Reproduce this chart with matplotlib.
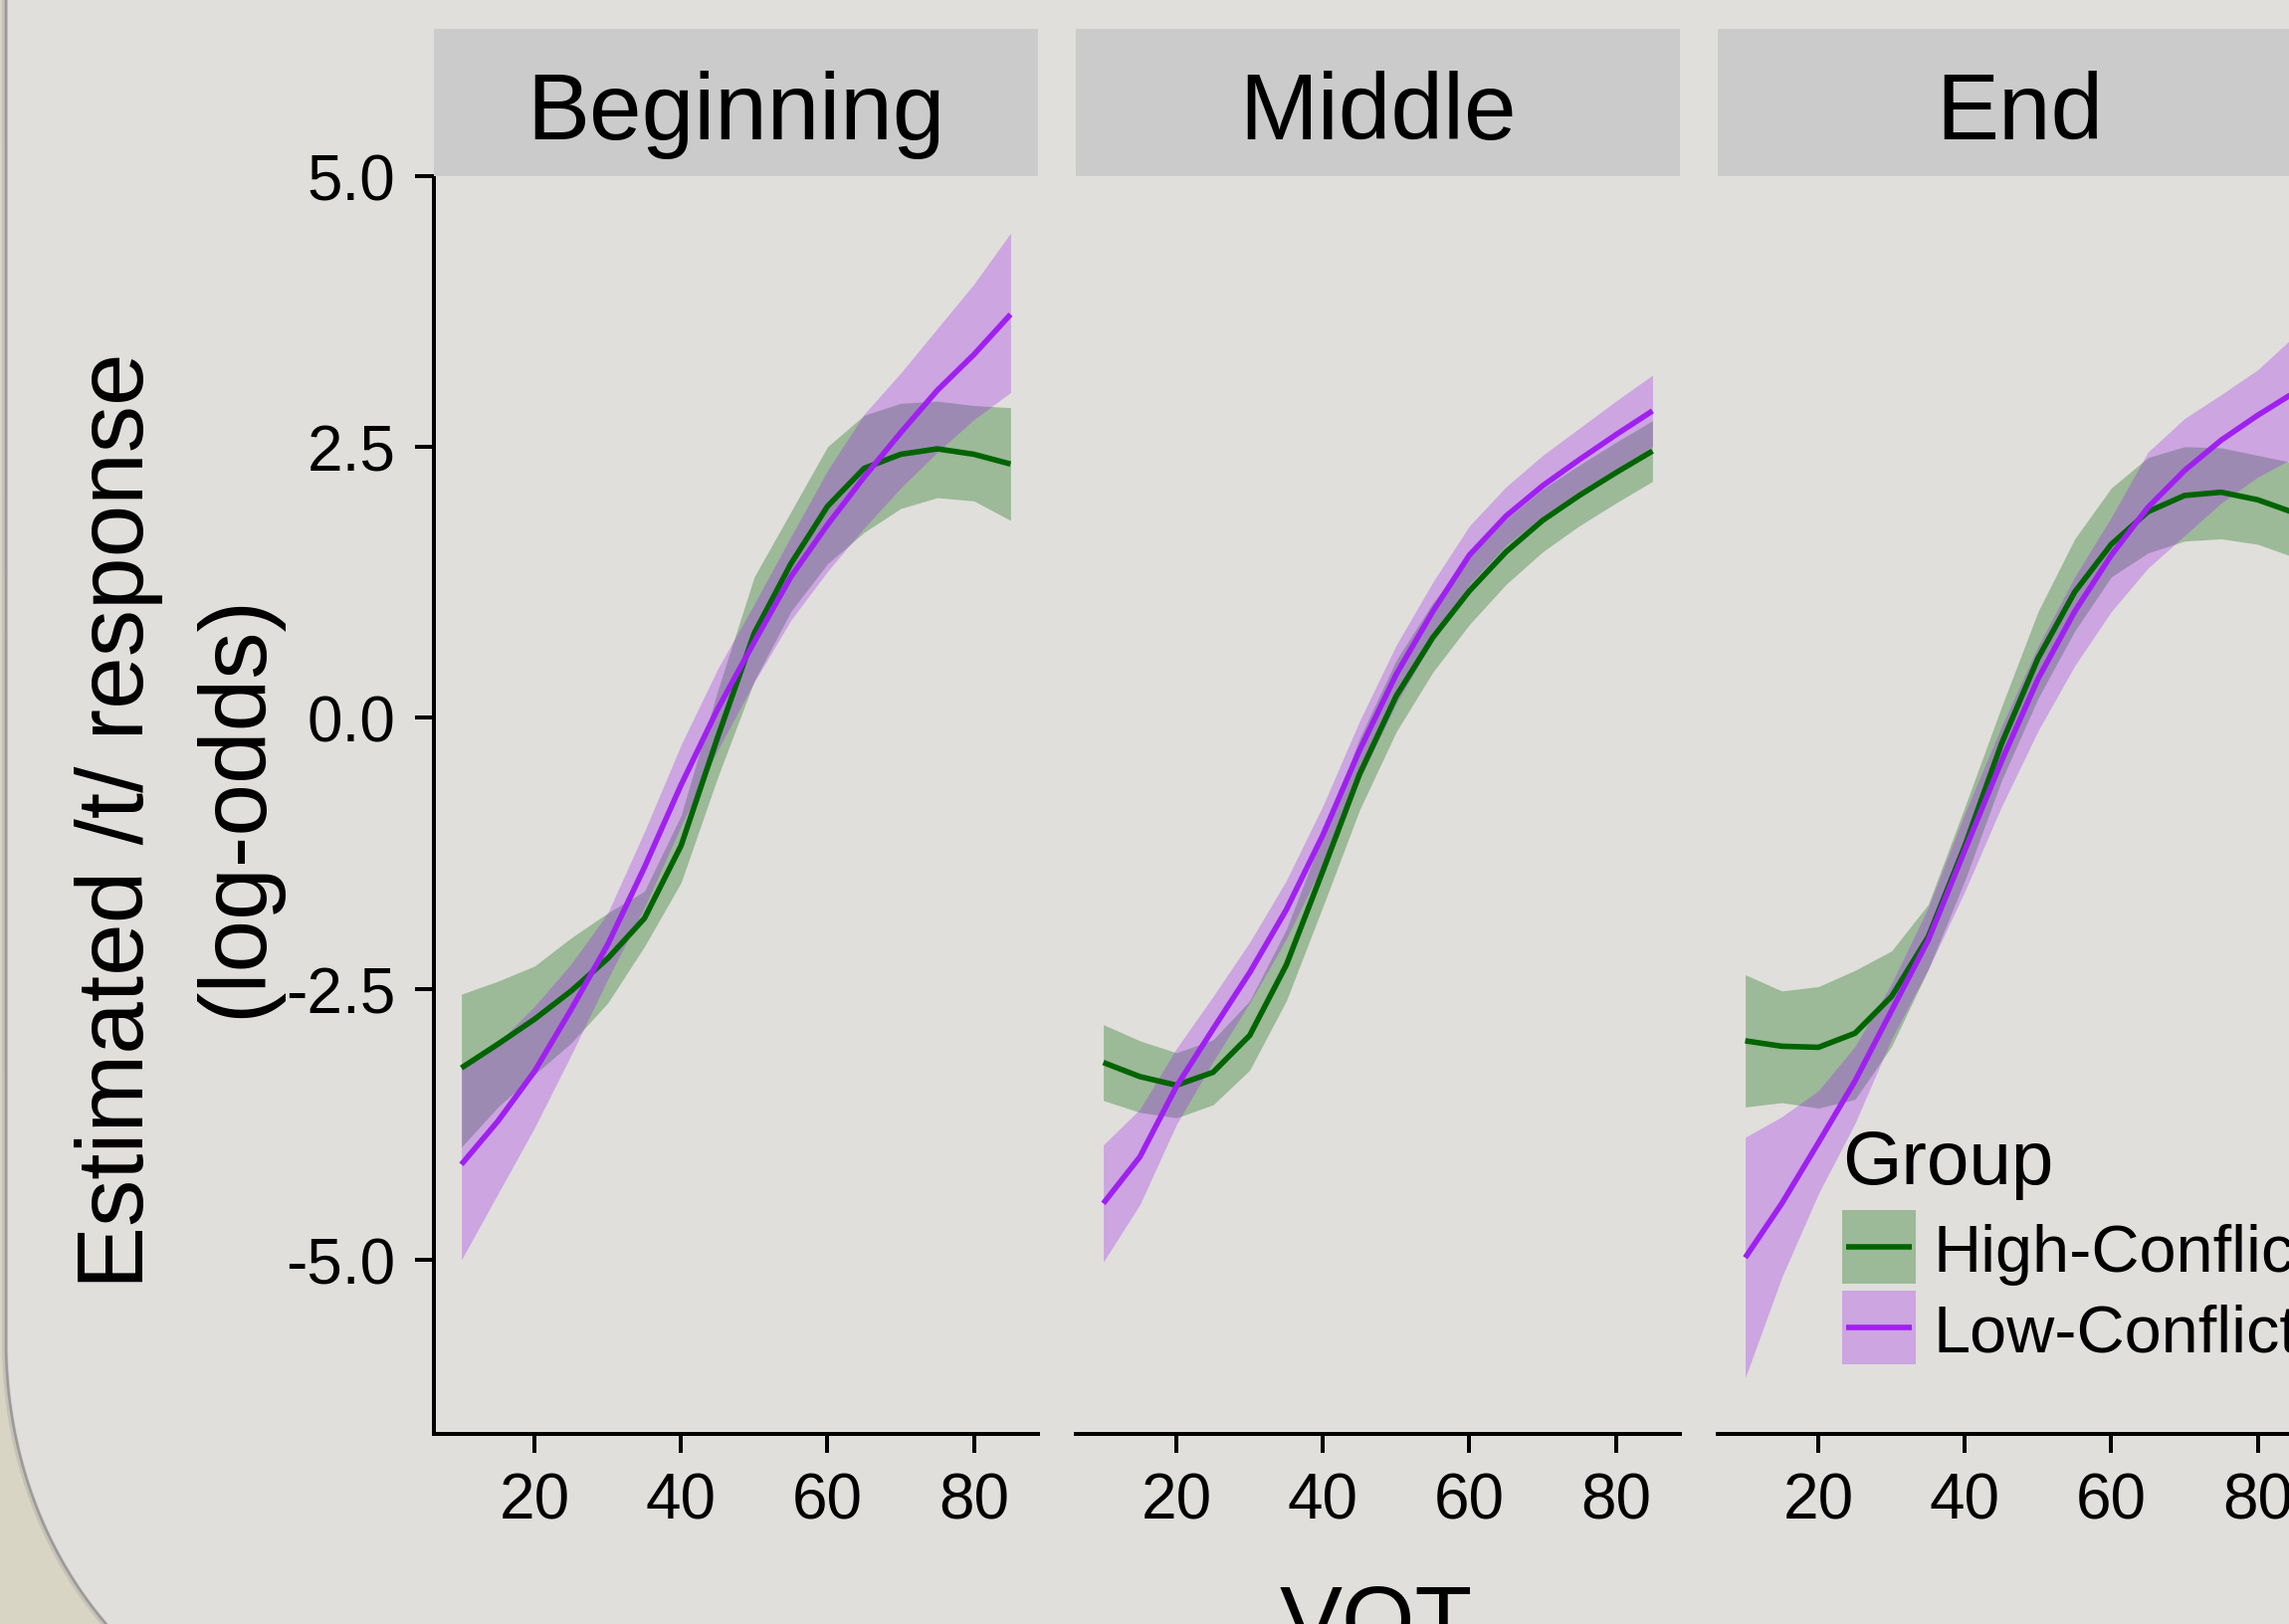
import numpy as np
import matplotlib
matplotlib.use("Agg")
import matplotlib.pyplot as plt
from matplotlib.patches import Rectangle, Polygon

plt.rcParams['font.family'] = ['Liberation Sans', 'DejaVu Sans']

# ---------------- data ----------------
vot = [10, 15, 20, 25, 30, 35, 40, 45, 50, 55, 60, 65, 70, 75, 80, 85]
panel_titles = ["Beginning", "Middle", "End"]
group_labels = ["High-Conflict", "Low-Conflict"]
y_ticks = [-5.0, -2.5, 0.0, 2.5, 5.0]
y_ticklabels = ["-5.0", "-2.5", "0.0", "2.5", "5.0"]
x_ticks = [20, 40, 60, 80]

beg_high_fit = [-3.23, -3.01, -2.78, -2.52, -2.22, -1.85, -1.18, -0.18, 0.78, 1.42, 1.95, 2.30, 2.43, 2.48, 2.43, 2.34]
beg_high_hi = [-2.55, -2.43, -2.29, -2.03, -1.80, -1.60, -0.90, 0.25, 1.30, 1.90, 2.50, 2.79, 2.90, 2.92, 2.88, 2.86]
beg_high_lo = [-3.96, -3.59, -3.29, -3.00, -2.63, -2.11, -1.52, -0.55, 0.34, 0.98, 1.42, 1.71, 1.93, 2.03, 2.00, 1.82]
beg_low_fit = [-4.12, -3.72, -3.26, -2.69, -2.09, -1.38, -0.62, 0.08, 0.70, 1.30, 1.78, 2.22, 2.63, 3.02, 3.35, 3.72]
beg_low_hi = [-3.22, -3.00, -2.66, -2.27, -1.80, -1.05, -0.25, 0.45, 1.05, 1.67, 2.28, 2.80, 3.18, 3.59, 4.00, 4.47]
beg_low_lo = [-5.00, -4.39, -3.78, -3.11, -2.41, -1.75, -1.00, -0.30, 0.33, 0.90, 1.35, 1.75, 2.12, 2.45, 2.75, 3.00]

mid_high_fit = [-3.18, -3.31, -3.39, -3.27, -2.93, -2.28, -1.41, -0.52, 0.20, 0.74, 1.17, 1.53, 1.82, 2.05, 2.26, 2.46]
mid_high_hi = [-2.83, -2.98, -3.09, -2.97, -2.61, -1.95, -1.08, -0.19, 0.53, 1.06, 1.48, 1.83, 2.11, 2.33, 2.54, 2.74]
mid_high_lo = [-3.53, -3.64, -3.69, -3.57, -3.25, -2.61, -1.74, -0.85, -0.13, 0.42, 0.86, 1.23, 1.53, 1.77, 1.98, 2.18]
mid_low_fit = [-4.48, -4.05, -3.40, -2.87, -2.35, -1.77, -1.08, -0.30, 0.40, 0.98, 1.50, 1.86, 2.14, 2.38, 2.61, 2.83]
mid_low_hi = [-3.94, -3.61, -3.05, -2.57, -2.07, -1.50, -0.81, -0.03, 0.67, 1.25, 1.77, 2.13, 2.42, 2.67, 2.92, 3.16]
mid_low_lo = [-5.02, -4.49, -3.75, -3.17, -2.63, -2.04, -1.35, -0.57, 0.13, 0.71, 1.23, 1.59, 1.86, 2.09, 2.30, 2.50]

end_high_fit = [-2.98, -3.03, -3.04, -2.91, -2.57, -2.02, -1.18, -0.24, 0.55, 1.16, 1.60, 1.90, 2.05, 2.08, 2.01, 1.89]
end_high_hi = [-2.37, -2.52, -2.48, -2.33, -2.15, -1.72, -0.82, 0.10, 0.98, 1.65, 2.12, 2.40, 2.50, 2.49, 2.42, 2.35]
end_high_lo = [-3.59, -3.55, -3.60, -3.52, -3.03, -2.32, -1.50, -0.58, 0.18, 0.80, 1.30, 1.52, 1.63, 1.65, 1.60, 1.48]
end_low_fit = [-4.98, -4.48, -3.92, -3.35, -2.70, -2.05, -1.22, -0.40, 0.36, 0.98, 1.50, 1.94, 2.28, 2.56, 2.79, 3.00]
end_low_hi = [-3.87, -3.68, -3.44, -3.03, -2.45, -1.75, -0.88, -0.08, 0.66, 1.30, 1.85, 2.45, 2.76, 2.98, 3.21, 3.52]
end_low_lo = [-6.09, -5.16, -4.39, -3.74, -2.96, -2.32, -1.60, -0.82, -0.12, 0.48, 0.98, 1.38, 1.68, 1.98, 2.22, 2.40]

# ---------------- styling ----------------
GREEN = "#006400"
PURPLE = "#A020F0"
PAGE = "#E0DFDB"
OUTSIDE = "#D8D5C4"
STRIP = "#CBCBCB"
W, H, DPI = 2300, 1633, 100
PT = 72.0 / DPI  # points per pixel

fig = plt.figure(figsize=(W / DPI, H / DPI), dpi=DPI)
fig.patch.set_facecolor(OUTSIDE)

# background "slide" with rounded bottom-left corner
bg = fig.add_axes([0, 0, 1, 1], zorder=-10)
bg.set_xlim(0, W)
bg.set_ylim(H, 0)
bg.axis("off")
t = np.linspace(0, np.pi / 2, 300)
ex = 7 + 344 * (1 - np.cos(t))
ey = 1350 + 400 * np.sin(t)
edge_x = np.concatenate([[7], ex])
edge_y = np.concatenate([[-20], ey])
bg.plot(edge_x - 2, edge_y + 1, color="#8F8C8F", lw=6 * PT, alpha=0.25, solid_capstyle="butt")
bg.plot(edge_x - 1, edge_y + 0.5, color="#9C999C", lw=2.5 * PT, solid_capstyle="butt")
verts = list(zip(edge_x, edge_y)) + [(W + 20, ey[-1]), (W + 20, -20)]
bg.add_patch(Polygon(verts, closed=True, facecolor=PAGE, edgecolor="none"))

panel_left = [436, 1081, 1726]
panel_w = 607
top_px, bot_px = 177.5, 1442
panels = [
    (beg_high_fit, beg_high_lo, beg_high_hi, beg_low_fit, beg_low_lo, beg_low_hi),
    (mid_high_fit, mid_high_lo, mid_high_hi, mid_low_fit, mid_low_lo, mid_low_hi),
    (end_high_fit, end_high_lo, end_high_hi, end_low_fit, end_low_lo, end_low_hi),
]

LW = 4.0
for i, (left, title, data) in enumerate(zip(panel_left, panel_titles, panels)):
    hf, hl, hh, lf, ll, lh = data
    ax = fig.add_axes([left / W, (H - bot_px) / H, panel_w / W, (bot_px - top_px) / H])
    ax.set_facecolor("none")
    ax.fill_between(vot, hl, hh, color=GREEN, alpha=0.3, lw=0)
    ax.plot(vot, hf, color=GREEN, lw=LW, solid_capstyle="butt", solid_joinstyle="round")
    ax.fill_between(vot, ll, lh, color=PURPLE, alpha=0.3, lw=0)
    ax.plot(vot, lf, color=PURPLE, lw=LW, solid_capstyle="butt", solid_joinstyle="round")
    ax.set_xlim(6.25, 88.75)
    ax.set_ylim(-6.606, 5.0)
    for s in ["top", "right"]:
        ax.spines[s].set_visible(False)
    ax.spines["bottom"].set_linewidth(4 * PT)
    ax.spines["bottom"].set_color("black")
    ax.set_xticks(x_ticks)
    ax.set_xticklabels([str(v) for v in x_ticks])
    ax.tick_params(axis="x", length=19 * PT, width=4 * PT, pad=13, labelsize=46, colors="black")
    if i == 0:
        ax.spines["left"].set_linewidth(4 * PT)
        ax.spines["left"].set_color("black")
        ax.set_yticks(y_ticks)
        ax.set_yticklabels(y_ticklabels)
        ax.tick_params(axis="y", length=19 * PT, width=4 * PT, pad=14, labelsize=46, colors="black")
    else:
        ax.spines["left"].set_visible(False)
        ax.tick_params(axis="y", left=False, labelleft=False)
    # facet strip
    fig.add_artist(Rectangle((left / W, (H - top_px) / H), panel_w / W, (top_px - 30) / H,
                             transform=fig.transFigure, facecolor=STRIP, edgecolor="none"))
    fig.text((left + panel_w / 2) / W, (H - 140) / H, title, ha="center", va="baseline",
             fontsize=68, color="black")

# overlay for titles and legend (pixel coordinates)
ov = fig.add_axes([0, 0, 1, 1], zorder=10)
ov.set_xlim(0, W)
ov.set_ylim(H, 0)
ov.axis("off")
ov.set_facecolor("none")

ov.text(144, 825, "Estimated /t/ response", rotation=90, rotation_mode="anchor",
        ha="center", va="baseline", fontsize=68)
ov.text(262, 810, "(log-odds)", rotation=90, rotation_mode="anchor",
        ha="center", va="baseline", fontsize=68)
ov.text(1383, 1660, "VOT", ha="center", va="baseline", fontsize=68)

# legend
ov.text(1851, 1190, "Group", ha="left", va="baseline", fontsize=55)
key_tops = [1217, 1298]
for col, lab, ktop in zip([GREEN, PURPLE], group_labels, key_tops):
    ov.add_patch(Rectangle((1851, ktop), 74, 74, facecolor=col, alpha=0.3, edgecolor="none"))
    ov.plot([1855, 1921], [ktop + 37, ktop + 37], color=col, lw=LW, solid_capstyle="butt")
    ov.text(1943, ktop + 61, lab, ha="left", va="baseline", fontsize=48)

fig.savefig("out.png", dpi=DPI, facecolor=fig.get_facecolor())
